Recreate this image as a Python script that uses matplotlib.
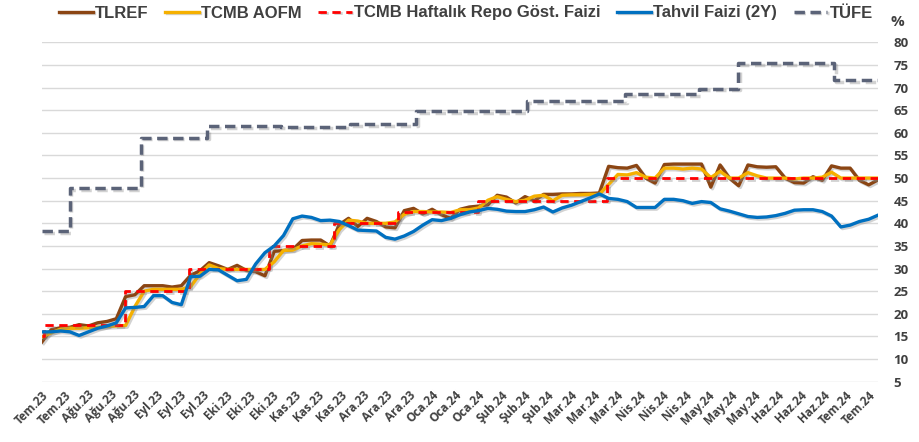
import numpy as np
import pandas as pd
import matplotlib
matplotlib.use('Agg')
import matplotlib.pyplot as plt
import matplotlib.patheffects as pe

# gunluk seriler (4 gunluk aralikla)
start = pd.Timestamp('2023-07-19')
end = pd.Timestamp('2024-07-17')
dates = pd.date_range(start, end, periods=91)

tlref = [13.8, 16.5, 16.9, 17.0, 17.6, 17.3, 18.0, 18.3, 18.9, 23.8,
         24.2, 26.2, 26.2, 26.2, 25.9, 26.2, 28.5, 29.5, 31.3, 30.6,
         29.8, 30.7, 29.6, 29.3, 28.4, 33.8, 34.0, 34.2, 36.2, 36.3,
         36.3, 35.0, 39.7, 41.1, 39.3, 41.1, 40.4, 39.2, 39.0, 42.8,
         43.3, 42.1, 43.1, 41.9, 41.1, 43.1, 43.6, 43.8, 44.1, 46.2,
         45.8, 44.5, 45.9, 45.0, 46.4, 46.4, 46.5, 46.5, 46.6, 46.6,
         46.7, 52.6, 52.3, 52.2, 52.8, 50.0, 48.9, 53.0, 53.1, 53.1,
         53.1, 53.1, 48.0, 52.9, 50.0, 48.3, 52.9, 52.5, 52.4, 52.5,
         50.0, 49.0, 48.9, 50.3, 49.5, 52.7, 52.2, 52.2, 49.5, 48.5,
         49.6]

aofm = [14.9, 15.8, 16.6, 16.8, 16.8, 16.9, 17.0, 17.2, 17.3, 17.4,
        21.6, 25.0, 25.4, 25.4, 25.4, 25.4, 26.0, 28.8, 30.8, 30.0,
        29.8, 29.8, 29.8, 29.8, 29.8, 31.5, 34.0, 34.1, 35.0, 35.5,
        35.4, 35.2, 38.6, 40.7, 40.5, 40.0, 40.0, 40.0, 40.3, 42.0,
        42.6, 42.6, 42.5, 42.5, 42.4, 43.0, 43.0, 43.4, 45.1, 45.9,
        45.3, 44.8, 45.1, 46.0, 46.2, 45.0, 46.2, 46.3, 46.3, 46.4,
        46.4, 48.6, 50.8, 50.7, 51.2, 50.2, 50.0, 52.2, 52.2, 52.0,
        52.2, 52.0, 50.1, 51.5, 50.0, 50.0, 51.2, 50.5, 50.0, 50.0,
        50.0, 49.8, 50.0, 50.0, 50.2, 51.3, 50.0, 50.0, 50.0, 50.0,
        50.0]

tahvil = [16.0, 16.0, 16.2, 16.0, 15.2, 16.0, 16.8, 17.3, 18.0, 21.3,
          21.4, 21.6, 24.0, 24.0, 22.5, 22.0, 28.2, 28.3, 29.8, 29.7,
          28.5, 27.3, 27.6, 31.0, 33.5, 35.0, 37.3, 41.0, 41.6, 41.3,
          40.6, 40.7, 40.4, 39.5, 38.5, 38.4, 38.3, 36.9, 36.5, 37.2,
          38.2, 39.6, 40.8, 40.6, 41.1, 41.9, 42.5, 42.8, 43.3, 43.1,
          42.7, 42.6, 42.6, 43.0, 43.6, 42.5, 43.4, 44.0, 44.8, 45.6,
          46.5, 45.5, 45.3, 44.8, 43.5, 43.5, 43.5, 45.3, 45.3, 45.0,
          44.4, 44.8, 44.6, 43.2, 42.7, 42.1, 41.5, 41.3, 41.4, 41.7,
          42.2, 42.9, 43.0, 43.0, 42.6, 41.6, 39.2, 39.6, 40.4, 40.9,
          41.8]

# politika faizi karar tarihleri
repo_dates = pd.to_datetime(['2023-07-19', '2023-07-20', '2023-08-24', '2023-09-21',
                             '2023-10-26', '2023-11-23', '2023-12-21', '2024-01-25',
                             '2024-03-21'])
repo = [15.0, 17.5, 25.0, 30.0, 35.0, 40.0, 42.5, 45.0, 50.0]

# yillik TÜFE
tufe_dates = pd.to_datetime(['2023-07-19', '2023-07-31', '2023-08-31', '2023-09-29',
                             '2023-10-31', '2023-11-30', '2023-12-29', '2024-01-31',
                             '2024-02-15', '2024-03-29', '2024-04-30', '2024-05-17',
                             '2024-06-28'])
tufe = [38.21, 47.83, 58.94, 61.53, 61.36, 61.98, 64.77, 64.86,
        67.07, 68.50, 69.80, 75.45, 71.60]

tick_labels = ['Tem.23', 'Tem.23', 'Ağu.23', 'Ağu.23', 'Ağu.23', 'Eyl.23', 'Eyl.23',
               'Eyl.23', 'Eki.23', 'Eki.23', 'Eki.23', 'Kas.23', 'Kas.23', 'Kas.23',
               'Ara.23', 'Ara.23', 'Ara.23', 'Oca.24', 'Oca.24', 'Oca.24', 'Şub.24',
               'Şub.24', 'Şub.24', 'Mar.24', 'Mar.24', 'Mar.24', 'Nis.24', 'Nis.24',
               'Nis.24', 'May.24', 'May.24', 'May.24', 'Haz.24', 'Haz.24', 'Haz.24',
               'Tem.24', 'Tem.24']

txt = '#404040'
shadow = [pe.SimpleLineShadow(offset=(1.2, -1.2), shadow_color='#7f7f7f', alpha=0.35),
          pe.Normal()]

fig = plt.figure(figsize=(9.19, 4.42), dpi=100)
ax = fig.add_axes([42 / 919, 60.4 / 442, 836 / 919, 339.2 / 442])

ax.plot(dates, tlref, color='#8B4513', lw=2.4, label='TLREF', path_effects=shadow)
ax.plot(dates, aofm, color='#F5B000', lw=2.4, label='TCMB AOFM', path_effects=shadow)
ax.plot(list(repo_dates) + [end], repo + [repo[-1]], color='#FF0000', lw=2.0,
        ls=(0, (3, 2)), drawstyle='steps-post', label='TCMB Haftalık Repo Göst. Faizi',
        path_effects=shadow)
ax.plot(dates, tahvil, color='#0070C0', lw=2.4, label='Tahvil Faizi (2Y)', path_effects=shadow)
ax.plot(list(tufe_dates) + [end], tufe + [tufe[-1]], color='#5B6378', lw=2.5,
        ls=(0, (3, 1.6)), drawstyle='steps-post', label='TÜFE', path_effects=shadow)

ax.set_xlim(start, end)
ax.set_ylim(5, 80)
ax.set_yticks(range(5, 85, 5))
ax.yaxis.tick_right()
ax.grid(axis='y', color='#D9D9D9', lw=1)
ax.set_axisbelow(True)
for s in ax.spines.values():
    s.set_visible(False)

ticks = [start + pd.Timedelta(days=10 * i) for i in range(len(tick_labels))]
ax.set_xticks(ticks)
ax.set_xticklabels(tick_labels, rotation=45, ha='right', rotation_mode='anchor')
ax.tick_params(axis='x', length=0, pad=5, labelsize=8.5, labelcolor=txt)
ax.tick_params(axis='y', length=0, pad=11, labelsize=9.5, labelcolor=txt)
for lab in ax.get_xticklabels() + ax.get_yticklabels():
    lab.set_fontfamily('Open Sans')
    lab.set_fontweight('bold')

fig.text(897 / 919, 1 - 22 / 442, '%', fontsize=11, fontweight='bold', color=txt,
         family='Open Sans', ha='center', va='center')

leg = fig.legend(loc='center', bbox_to_anchor=(466 / 919, 1 - 13 / 442), ncol=5,
                 frameon=False, handlelength=2.0, handletextpad=0.15, columnspacing=1.0,
                 prop={'family': 'Liberation Sans', 'weight': 'bold', 'size': 12})
for t in leg.get_texts():
    t.set_color(txt)

fig.savefig('out.png', dpi=100)
